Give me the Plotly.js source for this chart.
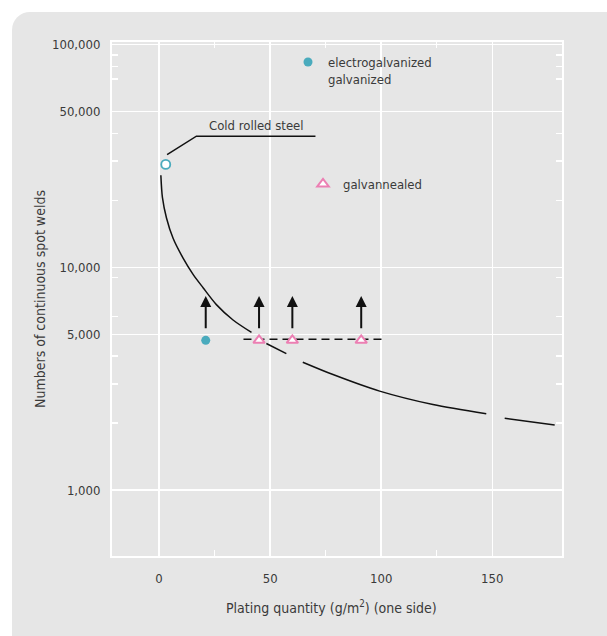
<!DOCTYPE html>
<html>
<head>
<meta charset="utf-8">
<script src="https://cdn.plot.ly/plotly-3.0.1.min.js"></script>
<style>
  html, body { margin:0; padding:0; background:#ffffff; width:607px; height:636px; overflow:hidden; }
  #bg { position:absolute; left:12px; top:12px; width:640px; height:660px; background:#e6e6e6; border-radius:18px; }
  #chart { position:absolute; left:0; top:0; width:607px; height:636px; }
</style>
</head>
<body>
<div id="bg"></div>
<div id="chart"></div>
<script>
// ---- data ----
const curveX = [0.8, 1.5, 3.3, 6.3, 10.8, 15.3, 19.8, 25.8, 33.3, 41.6, null, 48.3, 57.3, null, 64.7, 78.3, 99.3, 123.3, 147.3, null, 155.6, 178.1];
const curveY = [25900, 20600, 16700, 13500, 11000, 9300, 8100, 6800, 5800, 5100, null, 4550, 4100, null, 3750, 3300, 2780, 2420, 2200, null, 2100, 1960];

const coldX = [3];
const coldY = [29000];
const coldLeaderX = [3.6, 16.8, 70.4];
const coldLeaderY = [32100, 38800, 38800];
const coldLabel = "Cold rolled steel";
const coldLabelPos = [44, 43200];

const electroX = [21];
const electroY = [4700];
const electroName = "electrogalvanized<br>galvanized";

const annealX = [45, 60, 91];
const annealY = [4700, 4700, 4700];
const annealName = "galvannealed";

const dashX = [38, 101];
const dashY = [4750, 4750];

const arrowX = [21, 45, 60, 91];
const arrowFrom = 5250;
const arrowTo = 7430;

const xTicks = [0, 50, 100, 150];
const xMinor = [25, 75, 125];
const yTicks = [1000, 5000, 10000, 50000, 100000];
const yTickText = ["1,000", "5,000", "10,000", "50,000", "100,000"];
const yMinor = [2000, 3000, 4000, 6000, 9000, 20000, 30000, 40000, 70000, 80000, 90000];

const xTitle = "Plating quantity (g/m<sup>2</sup>) (one side)";
const yTitle = "Numbers of continuous spot welds";

// ---- styling ----
const FONT = "'Liberation Sans Narrow', 'DejaVu Sans Condensed', 'Roboto Condensed', 'Arial Narrow', 'Liberation Sans', sans-serif";
const TXT = "#3a3a3a";
const TEAL = "#4aabbd";
const PINK = "#ec7fb3";

const traces = [
  { x: curveX, y: curveY, mode: "lines", line: { color: "#111", width: 1.5, shape: "spline", smoothing: 0.8 },
    connectgaps: false, showlegend: false, hoverinfo: "skip" },
  { x: dashX, y: dashY, mode: "lines", line: { color: "#111", width: 1.5, dash: "8px,5px" }, showlegend: false, hoverinfo: "skip" },
  { x: coldLeaderX, y: coldLeaderY, mode: "lines", line: { color: "#111", width: 1.5 }, showlegend: false, hoverinfo: "skip" },
  { x: coldX, y: coldY, mode: "markers", marker: { symbol: "circle", size: 9, color: "#ffffff", line: { color: TEAL, width: 1.8 } },
    showlegend: false, cliponaxis: false },
  { x: electroX, y: electroY, mode: "markers", name: electroName, legend: "legend",
    marker: { symbol: "circle", size: 9, color: TEAL, line: { width: 0 } } },
  { x: annealX, y: annealY, mode: "markers", name: annealName, legend: "legend2",
    marker: { symbol: "triangle-up", size: 10, color: "#ffffff", line: { color: PINK, width: 2 } } }
];

const annotations = arrowX.map(ax => ({
  x: ax, y: Math.log10(arrowTo), xref: "x", yref: "y",
  ax: ax, ay: Math.log10(arrowFrom), axref: "x", ayref: "y",
  text: "", showarrow: true, arrowhead: 2, arrowsize: 1.1, arrowwidth: 2, arrowcolor: "#111", standoff: 0, startstandoff: 0
}));
annotations.push({
  x: coldLabelPos[0], y: Math.log10(coldLabelPos[1]), xref: "x", yref: "y",
  text: coldLabel, showarrow: false, font: { family: FONT, size: 13, color: TXT }
});
annotations.push({
  x: (331 - 112) / 450, y: -(607 - 556) / 514, xref: "paper", yref: "paper",
  xanchor: "center", yanchor: "middle",
  text: xTitle, showarrow: false, font: { family: FONT, size: 14, color: TXT }
});

const axisCommon = {
  showline: true, linecolor: "#ffffff", linewidth: 2, mirror: "allticks",
  showgrid: true, gridcolor: "#ffffff", gridwidth: 1.5,
  ticks: "inside", ticklen: 0, tickcolor: "#ffffff",
  zeroline: false,
  tickfont: { family: FONT, size: 13, color: TXT }
};

const layout = {
  width: 607, height: 636,
  margin: { l: 112, r: 45, t: 42, b: 80 },
  paper_bgcolor: "rgba(0,0,0,0)",
  plot_bgcolor: "rgba(0,0,0,0)",
  font: { family: FONT, size: 13, color: TXT },
  xaxis: Object.assign({}, axisCommon, {
    range: [-21.2, 181.4],
    tickmode: "array", tickvals: xTicks,
    ticklabelstandoff: 9,
    minor: { tickmode: "array", tickvals: xMinor, ticks: "inside", ticklen: 6, tickcolor: "#ffffff", tickwidth: 1.5, showgrid: false }
  }),
  yaxis: Object.assign({}, axisCommon, {
    type: "log",
    range: [2.7036, 5.012],
    tickmode: "array", tickvals: yTicks, ticktext: yTickText,
    ticklabelstandoff: 7,
    minor: { tickmode: "array", tickvals: yMinor, ticks: "inside", ticklen: 6, tickcolor: "#ffffff", tickwidth: 1.5, showgrid: false },
    title: { text: yTitle, font: { family: FONT, size: 14, color: TXT }, standoff: 3 }
  }),
  legend: {
    x: (288 - 112) / 450, y: (556 - 47) / 514, xanchor: "left", yanchor: "top",
    bgcolor: "rgba(0,0,0,0)", borderwidth: 0, valign: "top",
    font: { family: FONT, size: 13, color: TXT }
  },
  legend2: {
    x: (303 - 112) / 450, y: (556 - 169) / 514, xanchor: "left", yanchor: "top",
    bgcolor: "rgba(0,0,0,0)", borderwidth: 0, valign: "top",
    font: { family: FONT, size: 13, color: TXT }
  },
  annotations: annotations,
  showlegend: true
};

Plotly.newPlot("chart", traces, layout, { displayModeBar: false, staticPlot: true });
</script>
</body>
</html>
